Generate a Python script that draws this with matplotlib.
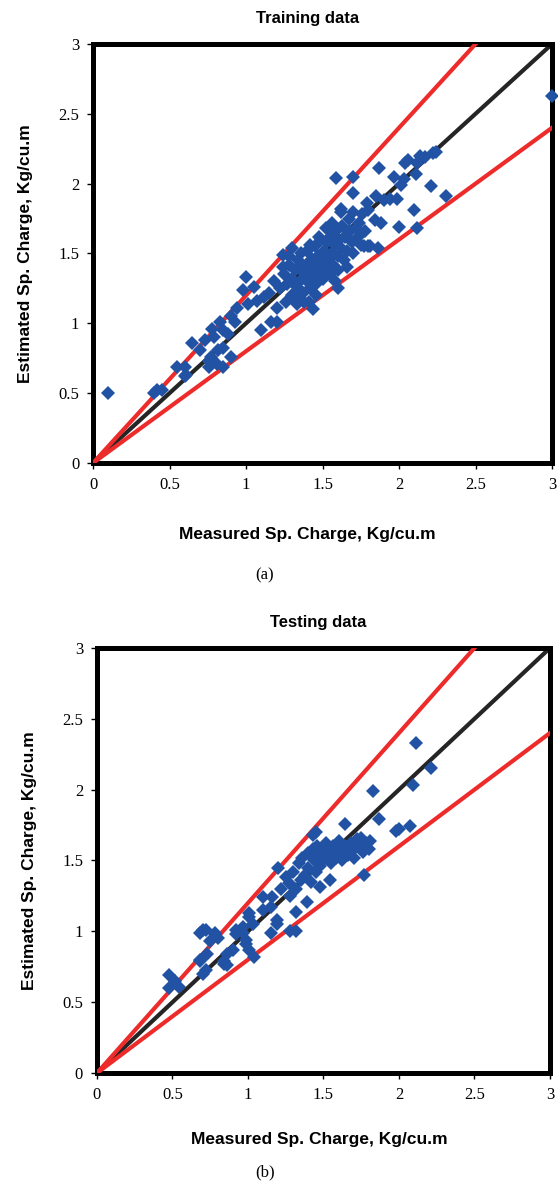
import numpy as np
import matplotlib
matplotlib.use("Agg")
import matplotlib.pyplot as plt

# training data (measured, estimated)
train_x = [0.10, 0.40, 0.42, 0.45, 0.55, 0.60, 0.60, 0.61, 0.65, 0.70, 0.73,
           0.76, 0.77, 0.81, 0.82, 0.85, 0.85, 0.90, 0.76, 0.78, 0.79, 0.83,
           0.85, 0.90, 0.93, 0.88, 0.94, 0.98, 1.01, 1.00, 1.05, 1.07, 1.12,
           1.10, 1.16, 1.20, 1.20, 1.15, 1.18, 1.24, 1.30, 1.33, 1.41, 1.60,
           1.22, 1.25, 1.27, 1.28, 1.30, 1.30, 1.32, 1.33, 1.34, 1.35, 1.36,
           1.37, 1.38, 1.39, 1.40, 1.40, 1.41, 1.42, 1.43, 1.44, 1.45, 1.45,
           1.46, 1.47, 1.48, 1.49, 1.50, 1.50, 1.51, 1.52, 1.53, 1.54, 1.55,
           1.55, 1.56, 1.57, 1.58, 1.59, 1.60, 1.60, 1.61, 1.62, 1.63, 1.64,
           1.65, 1.66, 1.67, 1.68, 1.69, 1.70, 1.70, 1.72, 1.73, 1.74, 1.75,
           1.76, 1.77, 1.78, 1.80, 1.81, 1.86, 1.28, 1.32, 1.36, 1.42, 1.46,
           1.38, 1.26, 1.24, 1.48, 1.52, 1.56, 1.58, 1.62, 1.66, 1.44,
           1.59, 1.70, 1.70, 1.62, 1.79, 1.80, 1.85, 1.87, 1.90, 1.94, 1.99,
           1.97, 2.03, 2.01, 2.04, 2.06, 2.00, 2.10, 2.12, 2.12, 2.11, 2.14,
           2.17, 2.22, 2.24, 2.21, 2.31, 1.88, 1.84, 3.00]
train_y = [0.50, 0.50, 0.52, 0.52, 0.69, 0.69, 0.62, 0.63, 0.86, 0.81, 0.88,
           0.73, 0.76, 0.71, 0.81, 0.69, 0.82, 0.76, 0.69, 0.96, 0.90, 1.01,
           0.95, 1.05, 1.01, 0.92, 1.11, 1.24, 1.14, 1.33, 1.26, 1.16, 1.19,
           0.95, 1.01, 1.01, 1.11, 1.22, 1.30, 1.49, 1.54, 1.14, 1.15, 1.25,
           1.25, 1.35, 1.28, 1.42, 1.20, 1.32, 1.38, 1.26, 1.45, 1.30, 1.50,
           1.22, 1.36, 1.42, 1.30, 1.52, 1.38, 1.25, 1.46, 1.34, 1.55, 1.40,
           1.28, 1.48, 1.36, 1.60, 1.44, 1.32, 1.52, 1.40, 1.58, 1.46, 1.35,
           1.62, 1.50, 1.42, 1.56, 1.66, 1.48, 1.38, 1.60, 1.54, 1.70, 1.45,
           1.62, 1.52, 1.75, 1.66, 1.58, 1.80, 1.50, 1.68, 1.62, 1.72, 1.56,
           1.78, 1.55, 1.66, 1.55, 1.55, 1.54, 1.48, 1.18, 1.40, 1.56, 1.20,
           1.15, 1.15, 1.40, 1.62, 1.68, 1.72, 1.30, 1.82, 1.40, 1.10,
           2.04, 2.05, 1.93, 1.80, 1.86, 1.81, 1.91, 2.11, 1.88, 1.89, 1.89,
           2.05, 2.03, 1.99, 2.15, 2.17, 1.69, 1.81, 1.68, 2.15, 2.07, 2.20,
           2.19, 2.22, 2.23, 1.98, 1.91, 1.72, 1.74, 2.63]

# testing data (measured, estimated)
test_x = [0.48, 0.48, 0.54, 0.52, 0.68, 0.72, 0.78, 0.80, 0.75, 0.70, 0.78,
          0.68, 0.73, 0.72, 0.70, 0.68, 0.84, 0.86, 0.84, 0.86, 0.90,
          0.92, 0.97, 1.01, 0.99, 1.04, 1.01, 0.92, 0.97, 0.99, 1.01, 1.03,
          1.15, 1.19, 1.10, 1.16, 1.10, 1.15, 1.19, 1.20,
          1.28, 1.32, 1.32, 1.39, 1.48, 1.54,
          1.22, 1.25, 1.27, 1.28, 1.30, 1.32, 1.34, 1.35, 1.36, 1.38, 1.40,
          1.40, 1.42, 1.43, 1.44, 1.45, 1.46, 1.47, 1.48, 1.50, 1.50, 1.52,
          1.53, 1.55, 1.56, 1.58, 1.60, 1.60, 1.62, 1.64, 1.66, 1.68, 1.70,
          1.72, 1.74, 1.76, 1.78, 1.80, 1.81, 1.70, 1.75,
          1.45, 1.43, 1.64, 1.77, 1.83, 1.87, 1.98, 2.00, 2.07, 2.09, 2.11, 2.21]
test_y = [0.69, 0.60, 0.61, 0.65, 0.99, 1.01, 0.98, 0.95, 0.93, 1.01, 0.99,
          0.79, 0.84, 0.73, 0.70, 0.80, 0.79, 0.76, 0.77, 0.84, 0.87,
          0.98, 1.03, 1.10, 0.91, 0.82, 0.87, 1.01, 0.99, 0.94, 1.13, 1.05,
          0.99, 1.05, 1.15, 1.24, 1.24, 1.17, 1.08, 1.45,
          1.00, 1.00, 1.14, 1.21, 1.31, 1.36,
          1.30, 1.38, 1.34, 1.25, 1.42, 1.30, 1.48, 1.36, 1.52, 1.40, 1.55,
          1.45, 1.35, 1.58, 1.50, 1.42, 1.60, 1.54, 1.46, 1.58, 1.50, 1.62,
          1.55, 1.48, 1.60, 1.52, 1.64, 1.56, 1.50, 1.60, 1.54, 1.62, 1.58,
          1.65, 1.60, 1.56, 1.62, 1.58, 1.64, 1.52, 1.66,
          1.70, 1.68, 1.76, 1.40, 1.99, 1.79, 1.71, 1.72, 1.74, 2.03, 2.33, 2.15]

line_x = [0, 3]
upper_ratio = 1.2
lower_ratio = 0.8
tick_labels = ['0', '0.5', '1', '1.5', '2', '2.5', '3']

BLUE = '#2152a3'
RED = '#ee2b2b'
DARK = '#252525'

fig = plt.figure(figsize=(5.58, 11.82), dpi=100)


def draw_panel(ax, xs, ys, title, title_x, xlab_xy):
    ax.plot(line_x, line_x, color=DARK, lw=3.0, zorder=2)
    ax.plot(line_x, [v * upper_ratio for v in line_x], color=RED, lw=3.0, zorder=3)
    ax.plot(line_x, [v * lower_ratio for v in line_x], color=RED, lw=3.0, zorder=3)
    ax.plot(xs, ys, 'D', color=BLUE, markersize=6.8, markeredgewidth=0, zorder=4,
            clip_on=False)
    ax.set_xlim(0, 3)
    ax.set_ylim(0, 3)
    ax.set_xticks(np.arange(0, 3.01, 0.5))
    ax.set_yticks(np.arange(0, 3.01, 0.5))
    ax.set_xticklabels(tick_labels)
    ax.set_yticklabels(tick_labels)
    for lab in ax.get_xticklabels() + ax.get_yticklabels():
        lab.set_family('Liberation Serif')
        lab.set_fontsize(12)
    ax.tick_params(direction='out', length=4, width=1, pad=6)
    for s in ax.spines.values():
        s.set_linewidth(3.6)
    t = ax.set_title(title, fontsize=12, fontweight='bold', family='Liberation Sans',
                     pad=15)
    t.set_x(title_x)
    ax.set_xlabel('Measured Sp. Charge, Kg/cu.m', fontsize=12.5, fontweight='bold',
                  family='Liberation Sans')
    ax.xaxis.set_label_coords(*xlab_xy)
    ax.set_ylabel('Estimated Sp. Charge, Kg/cu.m', fontsize=12.5, fontweight='bold',
                  family='Liberation Sans', labelpad=18)


ax1 = fig.add_axes([0.1667, 0.6083, 0.8226, 0.3545])
draw_panel(ax1, train_x, train_y, 'Training data', 0.468, (0.466, -0.152))
ax2 = fig.add_axes([0.1738, 0.0922, 0.8118, 0.3596])
draw_panel(ax2, test_x, test_y, 'Testing data', 0.488, (0.49, -0.139))

fig.text(265 / 558, 1 - 575 / 1182, '(a)', ha='center', va='center',
         family='Liberation Serif', fontsize=12)
fig.text(265 / 558, 1 - 1172 / 1182, '(b)', ha='center', va='center',
         family='Liberation Serif', fontsize=12)

fig.savefig('out.png', dpi=100)
